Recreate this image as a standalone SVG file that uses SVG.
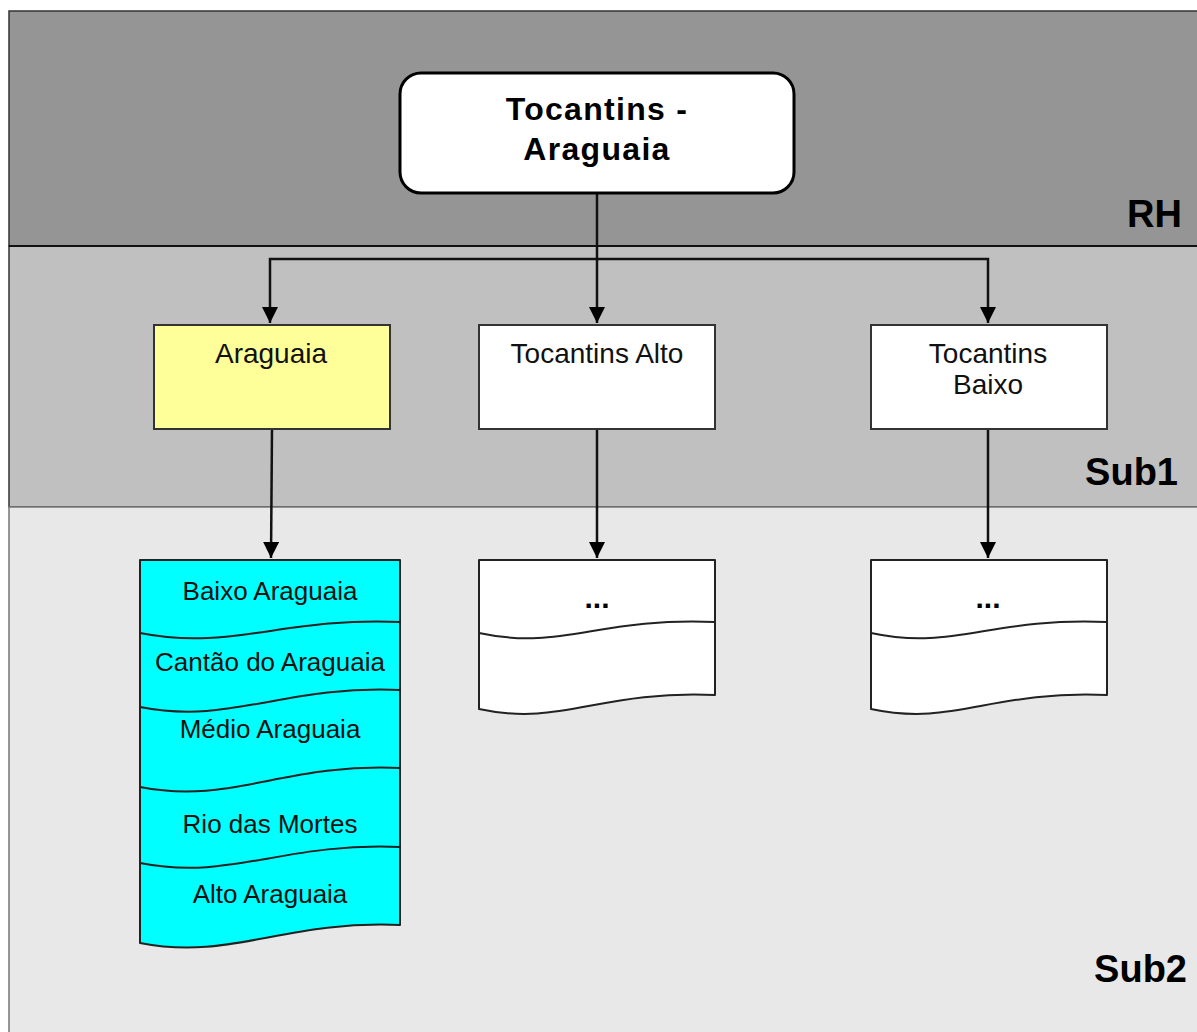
<svg xmlns="http://www.w3.org/2000/svg" width="1197" height="1032" viewBox="0 0 1197 1032">
<defs>
<style>
.band{stroke:#333;stroke-width:1.5}
.lbl{font-family:"Liberation Sans",Arial,sans-serif;font-weight:bold;font-size:38px;text-anchor:end;fill:#000}
.box{stroke:#333;stroke-width:2}
.t1{font-family:"Liberation Sans",Arial,sans-serif;font-size:28px;text-anchor:middle;fill:#111}
.t2{font-family:"Liberation Sans",Arial,sans-serif;font-size:26px;text-anchor:middle;fill:#111}
.doc{stroke:#222;stroke-width:2;stroke-linejoin:round}
.wave{fill:none;stroke:#222;stroke-width:2}
.conn{fill:none;stroke:#111;stroke-width:2.5}
</style>
<marker id="arr" viewBox="0 0 16 16" refX="16" refY="8" markerWidth="16" markerHeight="16" markerUnits="userSpaceOnUse" orient="auto">
<path d="M0,0 L16,8 L0,16 Z" fill="#000"/>
</marker>
</defs>

<g id="lanes">
<rect x="9" y="11" width="1200" height="235" fill="#959595" class="band"/>
<rect x="9" y="246" width="1200" height="261" fill="#c0c0c0" class="band"/>
<rect x="9" y="507" width="1200" height="540" fill="#e8e8e8" stroke="#777" stroke-width="1.5"/>
<line x1="9" y1="246" x2="1197" y2="246" stroke="#111" stroke-width="2"/>
<text class="lbl" x="1182" y="227">RH</text>
<text class="lbl" x="1178" y="485">Sub1</text>
<text class="lbl" x="1187" y="982">Sub2</text>
</g>

<g id="connectors">
<path class="conn" d="M597,194 L597,323" marker-end="url(#arr)"/>
<path class="conn" d="M597,259 L270,259 L270,323" marker-end="url(#arr)"/>
<path class="conn" d="M597,259 L988,259 L988,323" marker-end="url(#arr)"/>
<path class="conn" d="M272,429 L271,558" marker-end="url(#arr)"/>
<path class="conn" d="M597,429 L597,558" marker-end="url(#arr)"/>
<path class="conn" d="M988,429 L988,558" marker-end="url(#arr)"/>
</g>

<g id="node-root">
<rect x="400" y="73" width="394" height="120" rx="21" ry="21" fill="#fff" stroke="#000" stroke-width="3"/>
<text x="597" y="120" font-family="'Liberation Sans',Arial,sans-serif" font-weight="bold" font-size="32" letter-spacing="1.3" text-anchor="middle">Tocantins -</text>
<text x="597" y="160" font-family="'Liberation Sans',Arial,sans-serif" font-weight="bold" font-size="32" letter-spacing="1.3" text-anchor="middle">Araguaia</text>
</g>

<g id="node-araguaia">
<rect x="154" y="325" width="236" height="104" fill="#ffff99" class="box"/>
<text class="t1" x="271" y="363">Araguaia</text>
</g>

<g id="node-tocantins-alto">
<rect x="479" y="325" width="236" height="104" fill="#fff" class="box"/>
<text class="t1" x="597" y="363">Tocantins Alto</text>
</g>

<g id="node-tocantins-baixo">
<rect x="871" y="325" width="236" height="104" fill="#fff" class="box"/>
<text class="t1" x="988" y="363">Tocantins</text>
<text class="t1" x="988" y="394">Baixo</text>
</g>

<g id="node-araguaia-subs">
<path class="doc" fill="#00ffff" d="M140,560 L400,560 L400,925 C283,920 231,961 140,943 Z"/>
<path class="wave" d="M140,633 C231,651 283,617 400,622"/>
<path class="wave" d="M140,707 C231,725 283,685 400,690"/>
<path class="wave" d="M140,787 C231,805 283,763 400,768"/>
<path class="wave" d="M140,863 C231,881 283,842 400,847"/>
<text class="t2" x="270" y="600">Baixo Araguaia</text>
<text class="t2" x="270" y="671">Cantão do Araguaia</text>
<text class="t2" x="270" y="738">Médio Araguaia</text>
<text class="t2" x="270" y="833">Rio das Mortes</text>
<text class="t2" x="270" y="903">Alto Araguaia</text>
</g>

<g id="node-alto-subs">
<path class="doc" fill="#fff" d="M479,560 L715,560 L715,695 C598,690 562,727 479,709 Z"/>
<path class="wave" d="M479,633 C562,651 598,617 715,622"/>
<text x="597" y="608" font-family="'Liberation Sans',Arial,sans-serif" font-weight="bold" font-size="30" text-anchor="middle">...</text>
</g>

<g id="node-baixo-subs">
<path class="doc" fill="#fff" d="M871,560 L1107,560 L1107,695 C990,690 954,727 871,709 Z"/>
<path class="wave" d="M871,633 C954,651 990,617 1107,622"/>
<text x="988" y="608" font-family="'Liberation Sans',Arial,sans-serif" font-weight="bold" font-size="30" text-anchor="middle">...</text>
</g>
</svg>
